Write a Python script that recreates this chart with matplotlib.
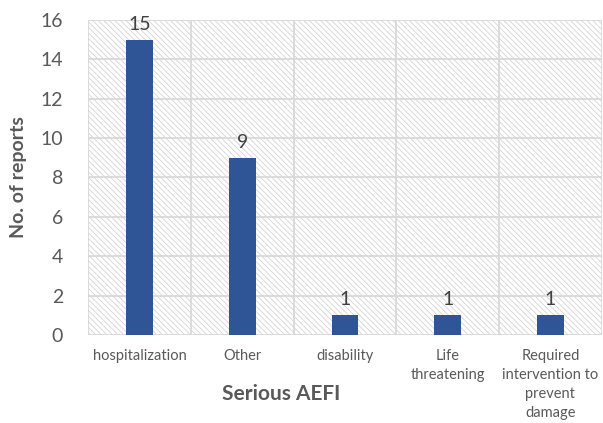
import matplotlib.pyplot as plt
from matplotlib.patches import Rectangle
import numpy as np

plt.rcParams['font.family'] = ['Lato', 'DejaVu Sans']
plt.rcParams['hatch.color'] = '#d0d0d0'
plt.rcParams['hatch.linewidth'] = 0.55

# data
categories = ['hospitalization', 'Other', 'disability', 'Life\nthreatening',
              'Required\nintervention to\nprevent\ndamage']
reports = [15, 9, 1, 1, 1]

fig = plt.figure(figsize=(6.03, 4.23), dpi=100)
ax = fig.add_axes([0.146, 0.208, 0.852, 0.745])

x = np.arange(len(categories))
ax.set_xlim(-0.5, len(categories) - 0.5)
ax.set_ylim(0, 16)

# hatched background of plot area
ax.add_patch(Rectangle((0, 0), 1, 1, transform=ax.transAxes, facecolor='white',
                       edgecolor='#d0d0d0', hatch='\\' * 6, linewidth=0, zorder=0))

# grid
for yv in range(0, 17, 2):
    ax.axhline(yv, color='#d9d9d9', lw=1.3, zorder=1)
for xv in np.arange(-0.5, len(categories), 1):
    ax.axvline(xv, color='#d9d9d9', lw=1.3, zorder=1)

bars = ax.bar(x, reports, width=0.26, color='#2f5597', zorder=3)
for xi, v in zip(x, reports):
    ax.annotate(str(v), (xi, v), xytext=(0, 5), textcoords='offset points',
                ha='center', va='bottom', fontsize=14, color='#404040')

ax.set_xticks(x)
ax.set_xticklabels(categories, fontsize=10.5, color='#595959', linespacing=1.45)
ax.set_yticks(range(0, 17, 2))
ax.tick_params(axis='y', labelsize=14, labelcolor='#595959', length=0, pad=18)
ax.tick_params(axis='x', length=0, pad=10)
for s in ax.spines.values():
    s.set_visible(False)

ax.set_xlabel('Serious AEFI', fontsize=15, fontweight='bold', color='#595959')
ax.set_ylabel('No. of reports', fontsize=14, fontweight='bold', color='#595959')
ax.xaxis.set_label_coords(0.375, -0.155)
ax.yaxis.set_label_coords(-0.118, 0.5)

fig.savefig('out.png', dpi=100)
